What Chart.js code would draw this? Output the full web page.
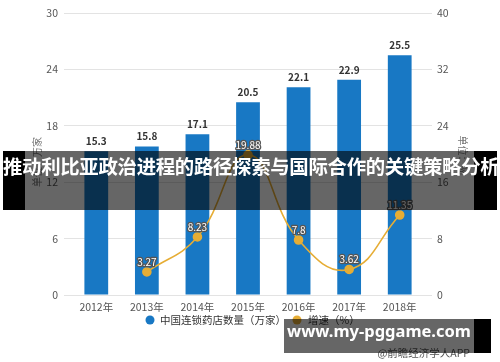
<!DOCTYPE html>
<html><head><meta charset="utf-8">
<script src="https://cdn.jsdelivr.net/npm/chart.js@4"></script>
<style>
html,body{margin:0;padding:0;background:#fff;}
#wrap{position:relative;width:500px;height:362px;overflow:hidden;}
canvas{position:absolute;left:0;top:0;}
.band{position:absolute;left:3px;top:151px;width:494px;height:59px;background:linear-gradient(to right,#000 0,#000 22px,rgba(0,0,0,0.6) 22px,rgba(0,0,0,0.6) 471px,#000 471px);}
.band span{position:absolute;left:0;right:0;top:0;line-height:59px;text-align:center;color:#fff;font:bold 19.4px "Noto Sans CJK SC";white-space:nowrap;letter-spacing:-0.3px;}
.band2{position:absolute;left:284px;top:319px;width:207px;height:34px;background:linear-gradient(to right,rgba(0,0,0,0.6) 0,rgba(0,0,0,0.6) 190px,#000 190px);}
.band2 span{position:absolute;left:0;right:17px;top:0;line-height:34px;text-align:center;color:#fff;font:bold 16.5px "Noto Sans";white-space:nowrap;}
</style></head>
<body><div id="wrap"><canvas id="c" width="500" height="362"></canvas>
<div class="band"><span>推动利比亚政治进程的路径探索与国际合作的关键策略分析</span></div>
<div class="band2"><span>www.my-pggame.com</span></div>
</div>
<script>
const categories = ["2012年","2013年","2014年","2015年","2016年","2017年","2018年"];
const storeCounts = [15.3, 15.8, 17.1, 20.5, 22.1, 22.9, 25.5];
const growthRates = [null, 3.27, 8.23, 19.88, 7.8, 3.62, 11.35];
const leftTicks = [0, 6, 12, 18, 24, 30];
const rightTicks = [0, 8, 16, 24, 32, 40];
const seriesNames = ["中国连锁药店数量（万家）", "增速（%）"];
const leftTitle = "单位：万家";
const rightTitle = "单位：%";
const sourceText = "@前瞻经济学人APP";

const BLUE = "#1878c4", GOLD = "#e6ad35";
const FONT = '"Noto Sans CJK SC", "Noto Sans", sans-serif';

const labelPlugin = {
  id: 'labels',
  afterDatasetsDraw(chart) {
    const ctx = chart.ctx;
    ctx.save();
    const m0 = chart.getDatasetMeta(0);
    ctx.font = 'bold 10px ' + FONT;
    ctx.fillStyle = '#333';
    ctx.textAlign = 'center';
    ctx.textBaseline = 'bottom';
    m0.data.forEach((el, i) => {
      ctx.fillText(storeCounts[i].toFixed(1), el.x, el.y - 5);
    });
    const m1 = chart.getDatasetMeta(1);
    ctx.font = '10px ' + FONT;
    ctx.lineWidth = 2.5;
    ctx.strokeStyle = '#555';
    ctx.fillStyle = '#fff';
    ctx.lineJoin = 'round';
    m1.data.forEach((el, i) => {
      if (growthRates[i] == null) return;
      const t = String(growthRates[i]);
      ctx.strokeText(t, el.x, el.y - 5);
      ctx.fillText(t, el.x, el.y - 5);
    });
    ctx.restore();
  },
  afterDraw(chart) {
    const ctx = chart.ctx;
    ctx.save();
    ctx.font = '10px ' + FONT;
    ctx.fillStyle = '#777';
    ctx.textAlign = 'center';
    ctx.textBaseline = 'middle';
    ctx.translate(37, 162);
    ctx.rotate(-Math.PI / 2);
    ctx.fillText(leftTitle, 0, 0);
    ctx.restore();
    ctx.save();
    ctx.font = '10px ' + FONT;
    ctx.fillStyle = '#777';
    ctx.textAlign = 'center';
    ctx.textBaseline = 'middle';
    ctx.translate(463, 155);
    ctx.rotate(Math.PI / 2);
    ctx.fillText(rightTitle, 0, 0);
    ctx.restore();
    // legend
    ctx.save();
    ctx.font = '10.5px ' + FONT;
    ctx.textBaseline = 'middle';
    ctx.textAlign = 'left';
    ctx.fillStyle = BLUE;
    ctx.beginPath(); ctx.arc(150, 320, 4.5, 0, Math.PI * 2); ctx.fill();
    ctx.fillStyle = '#333';
    ctx.fillText(seriesNames[0], 160, 320);
    ctx.fillStyle = GOLD;
    ctx.beginPath(); ctx.arc(297, 320, 4.5, 0, Math.PI * 2); ctx.fill();
    ctx.fillStyle = '#333';
    ctx.fillText(seriesNames[1], 308, 320);
    ctx.fillStyle = '#555';
    ctx.textAlign = 'right';
    ctx.fillText(sourceText, 470, 353);
    ctx.restore();
  }
};

new Chart(document.getElementById('c'), {
  data: {
    labels: categories,
    datasets: [
      { type: 'bar', label: seriesNames[0], data: storeCounts, backgroundColor: BLUE,
        yAxisID: 'y', categoryPercentage: 1, barPercentage: 0.47, order: 2 },
      { type: 'line', label: seriesNames[1], data: growthRates, borderColor: GOLD,
        backgroundColor: GOLD, pointBackgroundColor: GOLD, pointBorderColor: GOLD,
        borderWidth: 1.6, pointRadius: 4, tension: 0.45, cubicInterpolationMode: 'default',
        yAxisID: 'y1', order: 1, spanGaps: false }
    ]
  },
  options: {
    responsive: false, animation: false, devicePixelRatio: 1,
    layout: { padding: { top: 13, left: 0, right: 0, bottom: 0 } },
    plugins: { legend: { display: false }, tooltip: { enabled: false } },
    scales: {
      x: {
        grid: { display: false, drawTicks: false },
        border: { display: false },
        ticks: { color: '#555', font: { size: 10.5, family: FONT }, padding: 6, maxRotation: 0 },
        afterFit(s) { s.height = 67; }
      },
      y: {
        position: 'left', min: 0, max: 30,
        afterBuildTicks(s) { s.ticks = leftTicks.map(v => ({ value: v })); },
        grid: { color: '#e3e3e3', lineWidth: 1, drawTicks: true, tickLength: 7 },
        border: { display: false },
        ticks: { color: '#555', font: { size: 10.5, family: FONT }, padding: 6 },
        afterFit(s) { s.width = 71; }
      },
      y1: {
        position: 'right', min: 0, max: 40,
        afterBuildTicks(s) { s.ticks = rightTicks.map(v => ({ value: v })); },
        grid: { drawOnChartArea: false, color: '#e3e3e3', drawTicks: true, tickLength: 7 },
        border: { display: false },
        ticks: { color: '#555', font: { size: 10.5, family: FONT }, padding: 5 },
        afterFit(s) { s.width = 75; }
      }
    }
  },
  plugins: [labelPlugin]
});
</script>
</body></html>
